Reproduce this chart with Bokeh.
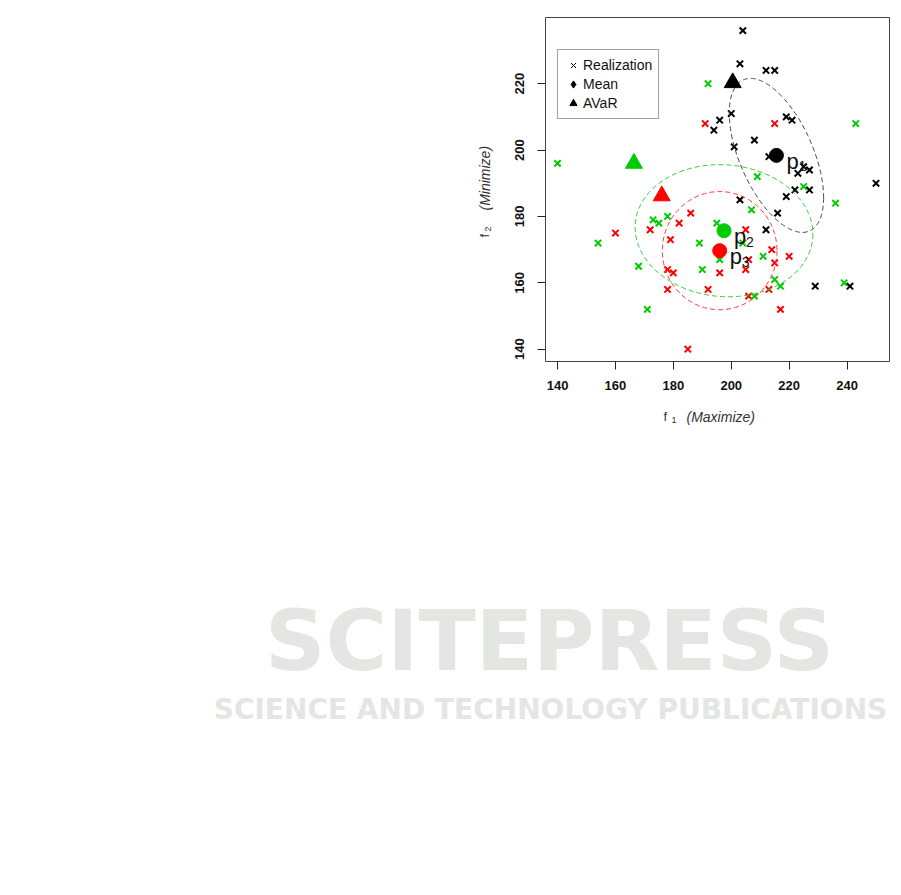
import numpy as np
from bokeh.plotting import figure
from bokeh.models import Range1d, FixedTicker, Label, Legend, LegendItem
from bokeh.core.properties import value
from bokeh.embed import file_html
from bokeh.resources import INLINE

# ---- data ----
black_f1 = [204, 203, 212, 215, 200, 196, 194, 219, 221, 208, 201, 213, 225, 227, 223, 250, 222, 227, 219, 203, 216, 212, 229, 241]
black_f2 = [236, 226, 224, 224, 211, 209, 206, 210, 209, 203, 201, 198, 195, 194, 193, 190, 188, 188, 186, 185, 181, 176, 159, 159]

red_f1 = [191, 215, 186, 182, 172, 160, 179, 205, 178, 180, 178, 192, 196, 205, 206, 214, 215, 220, 213, 206, 217, 185]
red_f2 = [208, 208, 181, 178, 176, 175, 173, 176, 164, 163, 158, 158, 163, 164, 167, 170, 166, 168, 158, 156, 152, 140]

green_f1 = [192, 140, 243, 209, 225, 236, 207, 195, 173, 175, 178, 154, 189, 204, 196, 168, 190, 211, 215, 217, 239, 208, 171]
green_f2 = [220, 196, 208, 192, 189, 184, 182, 178, 179, 178, 180, 172, 172, 172, 167, 165, 164, 168, 161, 159, 160, 156, 152]

series_names = ["p1", "p2", "p3"]
series_colors = ["#000000", "#00CD00", "#FF0000"]
mean_f1 = [215.6, 197.5, 196.0]
mean_f2 = [198.4, 175.7, 169.7]
avar_f1 = [200.5, 166.4, 176.0]
avar_f2 = [220.3, 196.0, 186.2]
ell_sx = [16.3, 30.7, 19.8]
ell_sy = [23.2, 19.9, 17.8]
ell_rho = [-0.55, -0.05, 0.0]
ell_colors = ["#444444", "#33CC33", "#FF3333"]

x_ticks = [140, 160, 180, 200, 220, 240]
y_ticks = [140, 160, 180, 200, 220]

FONT = "Liberation Sans"
H = 891

p = figure(width=893, height=H,
           x_range=Range1d(135.85, 254.65), y_range=Range1d(136.3, 239.95),
           output_backend="svg", toolbar_location=None,
           min_border_left=545, min_border_right=4, min_border_top=17, min_border_bottom=530)
p.grid.grid_line_color = None
p.outline_line_color = "#444444"
p.outline_line_width = 1
p.background_fill_color = "white"
p.border_fill_color = "white"

for ax, ticks in ((p.xaxis, x_ticks), (p.yaxis, y_ticks)):
    ax.ticker = FixedTicker(ticks=ticks)
    ax.axis_line_color = None
    ax.major_tick_in = 0
    ax.major_tick_out = 8
    ax.major_tick_line_color = "#222222"
    ax.minor_tick_line_color = None
    ax.major_label_text_font = FONT
    ax.major_label_text_font_size = "13px"
    ax.major_label_text_font_style = "bold"
    ax.major_label_text_color = "#111111"
p.xaxis.major_label_standoff = 11
p.yaxis.major_label_standoff = 13
p.yaxis.major_label_orientation = "vertical"

# ---- realizations ----
p.scatter(red_f1, red_f2, marker="x", size=9, line_width=2, line_color=series_colors[2])
p.scatter(green_f1, green_f2, marker="x", size=9, line_width=2, line_color=series_colors[1])
p.scatter(black_f1, black_f2, marker="x", size=9, line_width=2, line_color=series_colors[0])

# ---- dashed ellipses around means ----
t = np.linspace(0, 2 * np.pi, 240)
for cx, cy, sx, sy, rho, col in zip(mean_f1, mean_f2, ell_sx, ell_sy, ell_rho, ell_colors):
    ex = cx + sx * np.cos(t)
    ey = cy + sy * np.cos(t + np.arccos(rho))
    p.line(ex, ey, line_color=col, line_width=1, line_dash="5 3")

# ---- means and AVaR ----
p.scatter(mean_f1, mean_f2, marker="circle", size=14, fill_color=series_colors, line_color=series_colors)
p.scatter(avar_f1, avar_f2, marker="triangle", size=17, fill_color=series_colors, line_color=series_colors)

# ---- point labels p1, p2, p3 ----
p.text(mean_f1, mean_f2, text=["p"] * 3, x_offset=10, y_offset=6,
       text_font=value(FONT), text_font_size="22px", text_baseline="alphabetic",
       text_color="#111111")
p.text(mean_f1, mean_f2, text=[s[1] for s in series_names], x_offset=22, y_offset=11,
       text_font=value(FONT), text_font_size="14px", text_baseline="alphabetic",
       text_color="#111111")

# ---- legend (proxy renderers hold a single NaN point, so nothing shows in the plot) ----
r_real = p.scatter([np.nan], [np.nan], marker="x", size=8, line_width=1, line_color="black")
r_mean = p.scatter([np.nan], [np.nan], marker="diamond", size=8, fill_color="black", line_color="black")
r_avar = p.scatter([np.nan], [np.nan], marker="triangle", size=8, fill_color="black", line_color="black")
legend = Legend(items=[LegendItem(label="Realization", renderers=[r_real]),
                       LegendItem(label="Mean", renderers=[r_mean]),
                       LegendItem(label="AVaR", renderers=[r_avar])],
                location=(12, 242), orientation="vertical",
                border_line_color="#444444", border_line_width=1,
                padding=6, margin=0, spacing=1,
                label_height=18, glyph_height=18, glyph_width=18, label_standoff=1,
                label_text_font=FONT, label_text_font_size="14px", label_text_color="#111111",
                background_fill_color="white", background_fill_alpha=1)
p.add_layout(legend)

# ---- texts outside the frame: side-panel labels, canvas units (y from the top, centred) ----
def lab(side, x, y, text, size, style="normal", angle=0, color="#333333",
        font=FONT, align="left"):
    p.add_layout(Label(x=x, y=y, x_units="canvas", y_units="canvas", text=text,
                       text_font=font, text_font_size=size, text_font_style=style,
                       text_color=color, angle=angle, text_baseline="middle",
                       text_align=align), side)

# publisher watermark
lab("below", 549, 640, "SCITEPRESS", "84px", "bold", color="#e4e6e4", font="DejaVu Sans", align="center")
lab("below", 550, 709, "SCIENCE AND TECHNOLOGY PUBLICATIONS", "28px", "bold",
    color="#e4e6e4", font="DejaVu Sans", align="center")

lab("below", 663, 416, "f", "13px")
lab("below", 671, 419, "1", "9px")
lab("below", 686, 416, "(Maximize)", "14px", "italic")

lab("left", 484, 237, "f", "13px", angle=np.pi / 2)
lab("left", 487, 231, "2", "9px", angle=np.pi / 2)
lab("left", 484, 210, "(Minimize)", "14px", "italic", angle=np.pi / 2)

open("out.html", "w").write(file_html(p, INLINE))
